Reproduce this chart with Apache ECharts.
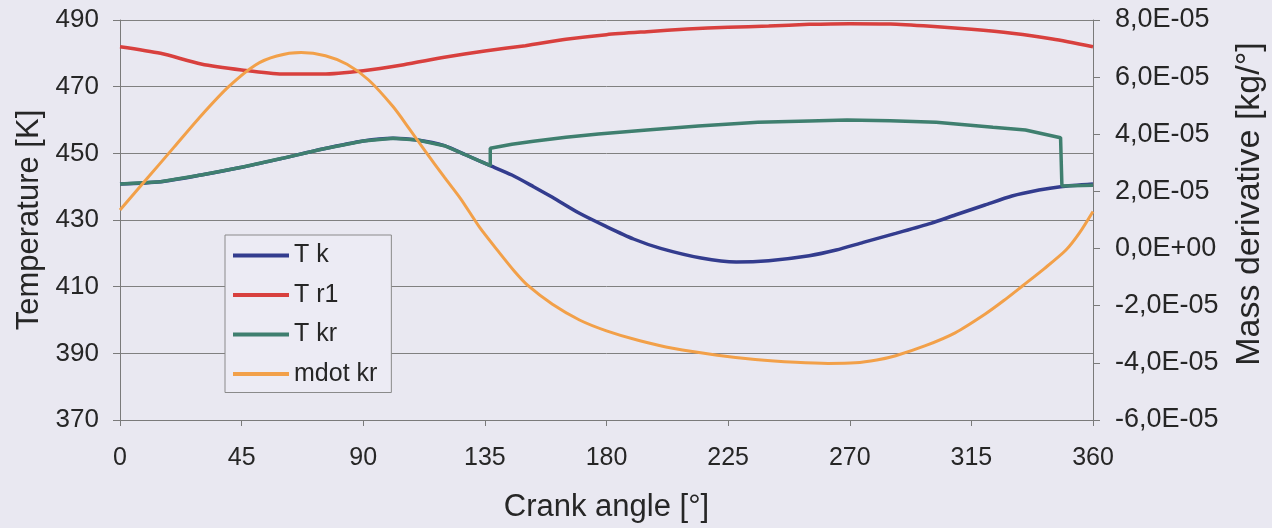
<!DOCTYPE html>
<html>
<head>
<meta charset="utf-8">
<script src="https://cdn.jsdelivr.net/npm/echarts@6/dist/echarts.min.js"></script>
<style>
html,body{margin:0;padding:0;background:#e9e8f1;}
#c{width:1272px;height:528px;}
</style>
</head>
<body>
<div id="c"></div>
<script>
// Crank angle ticks
const xTicks = [0, 45, 90, 135, 180, 225, 270, 315, 360];

// T k (blue) [K]
const tkAngle = [0, 15, 30, 45, 60, 75, 90, 101, 110, 120, 128, 137, 145, 153, 160, 170, 180, 190, 200, 215, 228, 240, 255, 265, 275, 287, 300, 309, 320, 330, 340, 348, 360];
const tkTemp  = [440.8, 441.5, 443.5, 445.8, 448.5, 451.3, 453.7, 454.5, 454.0, 452.3, 449.5, 446.3, 443.5, 440.0, 436.8, 432.0, 428.0, 424.3, 421.5, 418.6, 417.4, 417.8, 419.3, 421.0, 423.3, 426.0, 429.0, 431.5, 434.5, 437.2, 439.0, 440.0, 440.8];

// T r1 (red) [K]
const tr1Angle = [0, 15, 30, 45, 60, 75, 90, 105, 120, 135, 150, 165, 180, 195, 210, 225, 240, 255, 270, 285, 300, 315, 330, 345, 360];
const tr1Temp  = [482.0, 480.0, 476.8, 475.0, 473.8, 473.8, 474.8, 476.6, 478.8, 480.7, 482.3, 484.2, 485.6, 486.5, 487.3, 487.8, 488.2, 488.7, 488.9, 488.8, 488.1, 487.2, 486.0, 484.3, 482.0];

// T kr (green) [K]
const tkrAngle = [0, 15, 30, 45, 60, 75, 90, 101, 110, 120, 128, 137, 137, 145, 153, 165, 177, 195, 214, 236, 255, 269, 285, 302, 323, 335, 348, 348.5, 360];
const tkrTemp  = [440.8, 441.5, 443.5, 445.8, 448.5, 451.3, 453.7, 454.5, 454.0, 452.3, 449.5, 446.3, 451.5, 452.7, 453.6, 454.8, 455.8, 457.0, 458.2, 459.3, 459.7, 460.0, 459.8, 459.3, 457.8, 457.0, 454.7, 440.2, 440.4];

// mdot kr (orange) [kg/°]
const mdotAngle = [0, 10, 20, 30, 40, 50, 58, 67, 76, 84, 92, 101, 107, 113, 120, 126, 133, 140, 146, 151, 160, 170, 180, 192, 205, 221, 235, 250, 262, 272, 280, 287, 298, 309, 320, 327, 334, 342, 350, 355, 360];
const mdotVal   = [1.35e-5, 2.45e-5, 3.55e-5, 4.65e-5, 5.65e-5, 6.42e-5, 6.74e-5, 6.86e-5, 6.75e-5, 6.45e-5, 5.9e-5, 4.97e-5, 4.2e-5, 3.4e-5, 2.5e-5, 1.75e-5, 0.75e-5, -0.1e-5, -0.8e-5, -1.3e-5, -1.95e-5, -2.5e-5, -2.88e-5, -3.22e-5, -3.5e-5, -3.73e-5, -3.88e-5, -3.98e-5, -4.02e-5, -4.0e-5, -3.9e-5, -3.75e-5, -3.4e-5, -2.95e-5, -2.3e-5, -1.82e-5, -1.3e-5, -0.7e-5, -0.05e-5, 0.55e-5, 1.3e-5];

function pairs(a, b) { return a.map((v, i) => [v, b[i]]); }

function sciFmt(v) {
  if (Math.abs(v) < 1e-12) return '0,0E+00';
  let e = Math.floor(Math.log10(Math.abs(v)) + 1e-9);
  let m = v / Math.pow(10, e);
  let es = (e < 0 ? '-' : '+') + String(Math.abs(e)).padStart(2, '0');
  return m.toFixed(1).replace('.', ',') + 'E' + es;
}

const font = 'Liberation Sans, Arial, sans-serif';
const txt = '#262626';
const axisGray = '#7a7a7a';

const chart = echarts.init(document.getElementById('c'), null, {renderer: 'canvas'});
chart.setOption({
  backgroundColor: '#e9e8f1',
  animation: false,
  textStyle: {fontFamily: font},
  grid: {left: 120, right: 179, top: 20, bottom: 108, containLabel: false, outerBoundsMode: 'none'},
  legend: {
    orient: 'vertical',
    left: 225, top: 235,
    itemWidth: 56, itemHeight: 4,
    itemGap: 14.5,
    padding: [8, 14, 6, 8],
    backgroundColor: '#ecebf4',
    borderColor: '#8a8a8a', borderWidth: 1,
    textStyle: {fontFamily: font, fontSize: 25, color: txt},
    icon: 'rect',
    data: ['T k', 'T r1', 'T kr', 'mdot kr']
  },
  xAxis: {
    type: 'value', min: 0, max: 360, interval: 45,
    name: 'Crank angle [°]', nameLocation: 'middle', nameGap: 72,
    nameTextStyle: {fontSize: 31, color: txt, fontFamily: font},
    axisLine: {show: true, onZero: false, lineStyle: {color: axisGray, width: 1}},
    axisTick: {show: true, length: 6, lineStyle: {color: axisGray}},
    axisLabel: {fontSize: 25, color: txt, margin: 26, fontFamily: font,
      formatter: v => xTicks.includes(v) ? String(v) : ''},
    splitLine: {show: false}
  },
  yAxis: [
    {
      type: 'value', min: 370, max: 490, interval: 20,
      name: 'Temperature [K]', nameLocation: 'middle', nameGap: 74,
      nameTextStyle: {fontSize: 31, color: txt, fontFamily: font},
      axisLine: {show: true, lineStyle: {color: axisGray, width: 1}},
      axisTick: {show: true, length: 7, lineStyle: {color: axisGray}},
      axisLabel: {fontSize: 26, color: txt, margin: 21, fontFamily: font},
      splitLine: {show: true, lineStyle: {color: '#808080', width: 1}}
    },
    {
      type: 'value', min: -6e-5, max: 8e-5, interval: 2e-5,
      name: 'Mass derivative [kg/°]', nameLocation: 'middle', nameGap: 140,
      nameRotate: 90,
      nameTextStyle: {fontSize: 34, color: txt, fontFamily: font, padding: [0, 0, 0, 32]},
      position: 'right',
      axisLine: {show: true, lineStyle: {color: axisGray, width: 1}},
      axisTick: {show: true, length: 7, lineStyle: {color: axisGray}},
      axisLabel: {fontSize: 27, color: txt, margin: 22, fontFamily: font, formatter: sciFmt},
      splitLine: {show: false}
    }
  ],
  series: [
    {name: 'T k', type: 'line', yAxisIndex: 0, data: pairs(tkAngle, tkTemp),
     showSymbol: false, smooth: 0.25, color: '#333c8e', lineStyle: {width: 3.5, color: '#333c8e'}},
    {name: 'T r1', type: 'line', yAxisIndex: 0, data: pairs(tr1Angle, tr1Temp),
     showSymbol: false, smooth: 0.25, color: '#d8403e', lineStyle: {width: 3.5, color: '#d8403e'}},
    {name: 'T kr', type: 'line', yAxisIndex: 0, data: pairs(tkrAngle, tkrTemp),
     showSymbol: false, smooth: false, color: '#3f7f6f', lineStyle: {width: 3.5, color: '#3f7f6f'}},
    {name: 'mdot kr', type: 'line', yAxisIndex: 1, data: pairs(mdotAngle, mdotVal),
     showSymbol: false, smooth: 0.25, color: '#f2a049', lineStyle: {width: 3, color: '#f2a049'}}
  ]
});
</script>
</body>
</html>
